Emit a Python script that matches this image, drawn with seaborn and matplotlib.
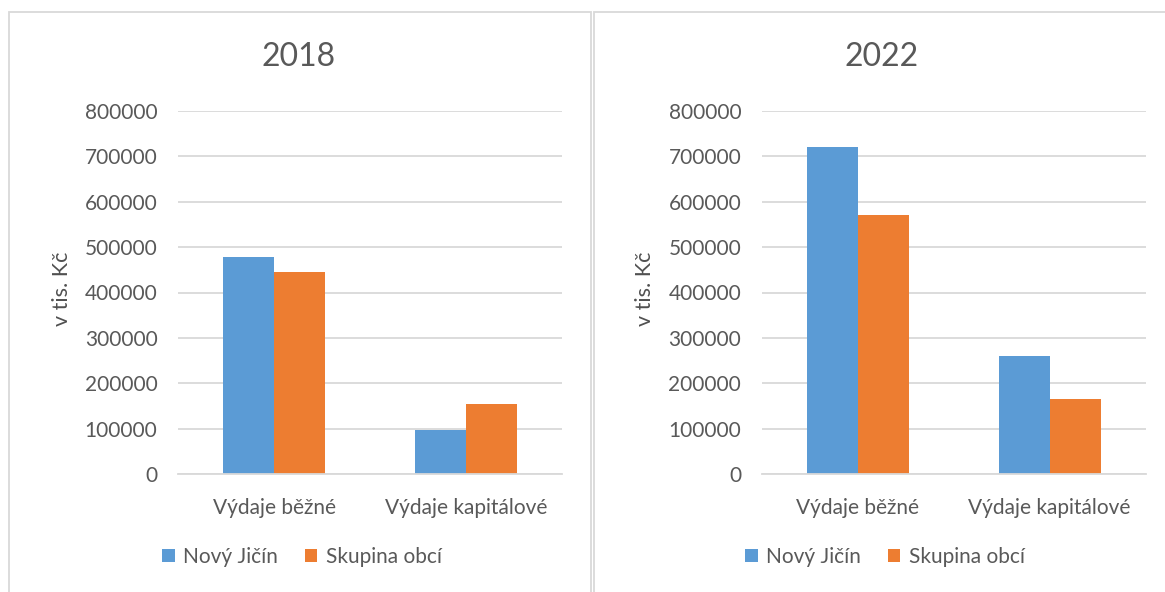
import matplotlib
matplotlib.use("Agg")
import matplotlib.pyplot as plt
from matplotlib.patches import Rectangle, Patch
import seaborn as sns
import pandas as pd

# Expenditure categories and compared entities
categories = ["Výdaje běžné", "Výdaje kapitálové"]
series = ["Nový Jičín", "Skupina obcí"]
years = ["2018", "2022"]

# Values in thousands CZK: one list per entity and year, ordered as categories
novy_jicin_2018 = [479000, 98000]
skupina_2018 = [446000, 154000]
novy_jicin_2022 = [721000, 261000]
skupina_2022 = [571000, 165000]

y_ticks = [0, 100000, 200000, 300000, 400000, 500000, 600000, 700000, 800000]
y_label = "v tis. Kč"

colors = ["#5B9BD5", "#ED7D31"]
text_color = "#595959"
grid_color = "#D9D9D9"

sns.set_theme(style="white")
plt.rcParams["font.family"] = ["Lato", "DejaVu Sans"]

W, H = 1165, 592
fig = plt.figure(figsize=(W / 100, H / 100), dpi=100)
fig.patch.set_facecolor("white")


def fx(px):
    return px / W


def fy(py):
    return 1 - py / H


# Chart frames
frame_kw = dict(transform=fig.transFigure, fill=False, edgecolor=grid_color, linewidth=1.3)
fig.add_artist(Rectangle((fx(9), fy(600)), fx(590.5) - fx(9), fy(12) - fy(600), **frame_kw))
fig.add_artist(Rectangle((fx(593.5), fy(600)), fx(1175) - fx(593.5), fy(12) - fy(600), **frame_kw))

# (title, series values, axes left edge px, panel centre px, y-label centre px)
panels = [
    (years[0], novy_jicin_2018, skupina_2018, 178.3, 299, 62),
    (years[1], novy_jicin_2022, skupina_2022, 762.0, 882, 645),
]

AX_W = 383.5
FS = 15

for year, nj, sk, left_px, center_px, ylab_px in panels:
    df = pd.DataFrame({
        "kategorie": categories * 2,
        "hodnota": nj + sk,
        "subjekt": [series[0]] * len(categories) + [series[1]] * len(categories),
    })
    ax = fig.add_axes([fx(left_px), fy(474), AX_W / W, 363 / H])
    sns.barplot(data=df, x="kategorie", y="hodnota", hue="subjekt",
                order=categories, hue_order=series, palette=colors,
                saturation=1, width=0.533, gap=0, edgecolor="none",
                linewidth=0, legend=False, ax=ax)
    ax.set_ylim(0, 800000)
    ax.set_yticks(y_ticks)
    ax.set_yticklabels([str(v) for v in y_ticks])
    ax.set_xlim(-0.5, 1.5)
    ax.grid(axis="y", color=grid_color, linewidth=1.3)
    ax.set_axisbelow(True)
    for s in ["top", "right", "left"]:
        ax.spines[s].set_visible(False)
    ax.spines["bottom"].set_color(grid_color)
    ax.spines["bottom"].set_linewidth(1.3)
    ax.tick_params(axis="both", length=0, labelsize=FS, labelcolor=text_color)
    ax.tick_params(axis="y", pad=15)
    ax.tick_params(axis="x", pad=17)
    ax.set_xlabel("")
    ax.set_ylabel(y_label, fontsize=FS + 0.5, color="#505050", va="center")
    ax.yaxis.set_label_coords((ylab_px - left_px) / AX_W, 0.51)

    fig.text(fx(center_px), fy(57), year, ha="center", va="center",
             fontsize=23, color=text_color)

    handles = [Patch(facecolor=c, edgecolor="none") for c in colors]
    fig.legend(handles, series, loc="center", bbox_to_anchor=(fx(center_px + 3), fy(557)),
               ncol=2, frameon=False, fontsize=FS, labelcolor=text_color,
               handlelength=0.6, handleheight=0.6, handletextpad=0.4,
               columnspacing=1.3, borderpad=0)

fig.savefig("out.png", dpi=100, facecolor="white")
